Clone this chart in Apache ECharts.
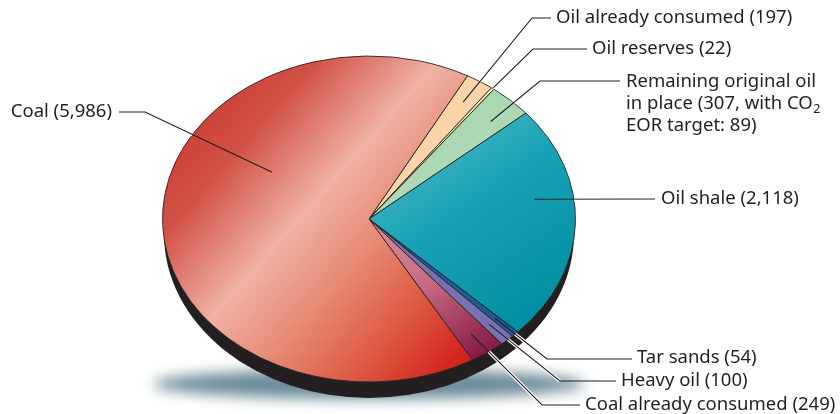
<!DOCTYPE html>
<html>
<head>
<meta charset="utf-8">
<script src="https://cdn.jsdelivr.net/npm/echarts@6/dist/echarts.min.js"></script>
<style>
  html, body { margin: 0; padding: 0; background: #ffffff; }
  #chart { width: 840px; height: 414px; }
</style>
</head>
<body>
<div id="chart"></div>
<script>
// Fossil resources, in clockwise order starting just right of 12 o'clock
const categories = ['Oil already consumed', 'Oil reserves', 'Remaining original oil in place',
  'Oil shale', 'Tar sands', 'Heavy oil', 'Coal already consumed', 'Coal'];
const values = [197, 22, 307, 2118, 54, 100, 249, 5986];
const eorTarget = 89;

// ---- geometry of the tilted disc ----
const CX = 369, CY = 219, RX = 206.5, RY = 163;
const START_DEG = 28.5;          // first slice edge, degrees clockwise from 12 o'clock
const FONT = '"Noto Sans", "Open Sans", sans-serif';
const FONT_SIZE = 18.5;
const INK = '#231f20';

const total = values.reduce((a, b) => a + b, 0);
const cumulative = [];
values.reduce((acc, v) => { cumulative.push(acc); return acc + v; }, 0);

function angleOf(v) { return (START_DEG + v / total * 360 - 90) * Math.PI / 180; }
function pointAt(a, r) { return [CX + RX * r * Math.cos(a), CY + RY * r * Math.sin(a)]; }
function fmt(n) { return n.toLocaleString('en-US'); }

// slice fills (coordinates in the disc's local, unscaled space)
const G = echarts.graphic.LinearGradient;
const fills = [
  '#fbd4a8',
  '#f5eeb3',
  new G(60, -190, 170, -60, [{ offset: 0, color: '#a3d4ab' }, { offset: 1, color: '#b3ddba' }], true),
  new G(0, -120, 206, 120, [
    { offset: 0, color: '#5abbca' }, { offset: 0.45, color: '#17a3b5' }, { offset: 1, color: '#008c9f' }], true),
  '#1b5d97',
  '#7872b3',
  new G(0, 0, 118, 169, [
    { offset: 0, color: '#d990a1' }, { offset: 0.5, color: '#c56a82' }, { offset: 1, color: '#861a44' }], true),
  new G(-169.5, -118, 169.5, 118, [
    { offset: 0, color: '#cd4339' }, { offset: 0.12, color: '#d25247' }, { offset: 0.36, color: '#efb2a3' },
    { offset: 0.55, color: '#e68a74' }, { offset: 0.75, color: '#de5841' }, { offset: 0.92, color: '#d3251e' },
    { offset: 1, color: '#d01a1a' }], true)
];

// label texts
const labelLines = values.map((v, i) => [categories[i] + ' (' + fmt(v) + ')']);
labelLines[2] = ['Remaining original oil', 'in place (' + fmt(values[2]) + ', with CO', 'EOR target: ' + eorTarget + ')'];

// leader layout: anchor inside slice (fraction of its span, radius), bends, text anchor
const leaders = [
  { frac: 0.5, r: 0.85, bends: [[532, 18], [551, 18]], tx: 556, ty: 18 },
  { frac: 0.5, r: 1.0, bends: [[533, 49], [587, 49]], tx: 592, ty: 49 },
  { frac: 0.6, r: 0.84, bends: [[540, 81], [620, 81]], tx: 626, ty: 82 },
  { frac: 0.378, r: 0.81, bends: [[655, 199]], tx: 661, ty: 199 },
  { frac: 0.5, r: 0.86, bends: [[547, 359], [632, 359]], tx: 637, ty: 358 },
  { frac: 0.5, r: 0.87, bends: [[560, 381], [616, 381]], tx: 621, ty: 381 },
  { frac: 0.5, r: 0.86, bends: [[542, 405], [580, 405]], tx: 585, ty: 405 },
  { frac: 0.635, r: 0.55, bends: [[145, 112], [119, 112]], tx: 112, ty: 112, align: 'right' }
];

const measureCtx = document.createElement('canvas').getContext('2d');
measureCtx.font = FONT_SIZE + 'px ' + FONT;

// where the segment p->q leaves the top face of the disc
function exitPoint(p, q) {
  const ax = (p[0] - CX) / RX, ay = (p[1] - CY) / RY;
  const dx = (q[0] - p[0]) / RX, dy = (q[1] - p[1]) / RY;
  const A = dx * dx + dy * dy, B = 2 * (ax * dx + ay * dy), C = ax * ax + ay * ay - 1;
  const t = (-B + Math.sqrt(Math.max(0, B * B - 4 * A * C))) / (2 * A);
  return [p[0] + (q[0] - p[0]) * t, p[1] + (q[1] - p[1]) * t];
}

function renderItem(params, api) {
  const i = params.dataIndex;
  const v = api.value(0);
  const a0 = angleOf(cumulative[i]);
  const a1 = angleOf(cumulative[i] + v);
  const children = [{
    type: 'sector',
    x: CX, y: CY, scaleY: RY / RX,
    shape: { cx: 0, cy: 0, r0: 0, r: RX, startAngle: a0, endAngle: a1, clockwise: true },
    style: { fill: fills[i], stroke: '#2a2526', lineWidth: 1, strokeNoScale: true },
    z2: 1
  }];

  const L = leaders[i];
  const anchor = pointAt(angleOf(cumulative[i] + v * L.frac), L.r);
  const pts = [anchor].concat(L.bends);
  const out = exitPoint(anchor, L.bends[0]);
  children.push({
    type: 'polyline', shape: { points: [out, L.bends[0]] },
    style: { stroke: '#ffffff', lineWidth: 3.4, fill: null }, z2: 20
  });
  children.push({
    type: 'polyline', shape: { points: pts },
    style: { stroke: INK, lineWidth: 1.1, fill: null }, z2: 21
  });

  labelLines[i].forEach((line, k) => {
    children.push({
      type: 'text', x: L.tx, y: L.ty + k * 22,
      style: { text: line, fill: INK, font: FONT_SIZE + 'px ' + FONT,
               align: L.align || 'left', verticalAlign: 'middle' },
      z2: 22
    });
  });
  if (i === 2) {
    // subscript of CO2
    const w = measureCtx.measureText(labelLines[2][1]).width;
    children.push({
      type: 'text', x: L.tx + w + 0.5, y: L.ty + 22 + 5,
      style: { text: '2', fill: INK, font: '12.5px ' + FONT, align: 'left', verticalAlign: 'middle' },
      z2: 22
    });
  }
  return { type: 'group', children: children };
}

const chart = echarts.init(document.getElementById('chart'), null, { renderer: 'canvas' });
chart.setOption({
  animation: false,
  backgroundColor: '#ffffff',
  graphic: [
    {
      // soft ground shadow: the shape sits off-canvas, only its blurred shadow lands under the disc
      type: 'circle', x: 369, y: 384 - 2000, scaleY: 15 / 216, z: 0,
      shape: { cx: 0, cy: 0, r: 216 },
      style: {
        fill: '#6c8b99',
        shadowColor: 'rgba(108,139,153,1)',
        shadowBlur: 14,
        shadowOffsetX: 0,
        shadowOffsetY: 2000
      }
    },
    {
      // side wall of the disc
      type: 'circle', x: 369, y: 234, scaleY: 164 / 205, z: 1,
      shape: { cx: 0, cy: 0, r: 205 },
      style: { fill: '#231f20' }
    }
  ],
  series: [{
    type: 'custom',
    coordinateSystem: 'none',
    renderItem: renderItem,
    data: values.map(v => [v]),
    silent: true
  }]
});
</script>
</body>
</html>
